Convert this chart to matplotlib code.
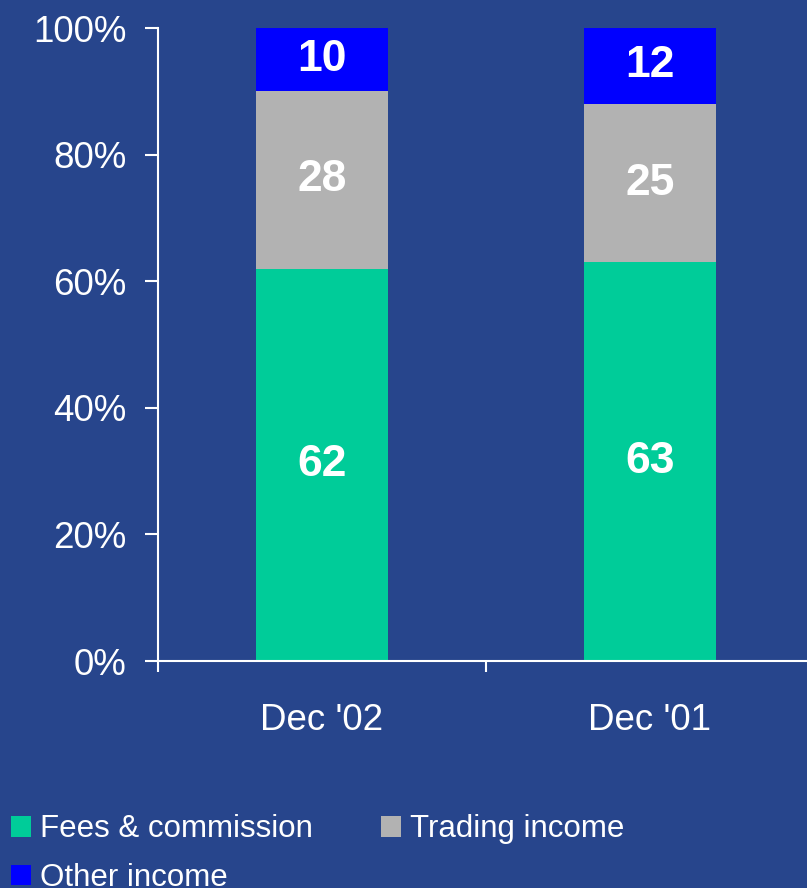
import matplotlib
matplotlib.use("Agg")
import matplotlib.pyplot as plt
from matplotlib.patches import Patch
import numpy as np

# data
periods = ["Dec '02", "Dec '01"]
fees = [62, 63]
trading = [28, 25]
other = [10, 12]
series_names = ["Fees & commission", "Trading income", "Other income"]
colors = ["#00CC99", "#B2B2B2", "#0000FF"]
bg = "#27458C"

plt.rcParams["font.family"] = ["Liberation Sans", "DejaVu Sans"]

fig = plt.figure(figsize=(8.07, 8.88), dpi=100, facecolor=bg)
ax = fig.add_axes([158 / 807, 227 / 888, 656 / 807, 633 / 888])
ax.set_facecolor(bg)

x = np.arange(len(periods))
width = 0.405
bottom = np.zeros(len(periods))
for vals, col in zip([fees, trading, other], colors):
    bars = ax.bar(x, vals, width, bottom=bottom, color=col, zorder=2)
    for rect, v, b in zip(bars, vals, bottom):
        ax.text(rect.get_x() + rect.get_width() / 2, b + v / 2, str(v),
                ha="center", va="center", color="white", fontsize=32,
                fontweight="bold", zorder=3)
    bottom += np.array(vals)

ax.set_xlim(-0.5, len(periods) - 0.5)
ax.set_ylim(0, 100)
ax.set_yticks(np.arange(0, 101, 20))
ax.set_yticklabels([f"{v}%" for v in range(0, 101, 20)])

# boundaries get the tick marks, centres get the labels
ax.set_xticks(np.arange(-0.5, len(periods) + 0.5, 1))
ax.set_xticklabels([])
ax.set_xticks(x, minor=True)
ax.set_xticklabels(periods, minor=True)
ax.tick_params(axis="x", which="major", direction="out", length=8, width=1.5, color="white")
ax.tick_params(axis="x", which="minor", length=0, pad=30, labelsize=26.5, labelcolor="white")
ax.tick_params(axis="y", direction="out", length=9.5, width=1.5, color="white",
               pad=13, labelsize=26.5, labelcolor="white")

for s in ["top", "right"]:
    ax.spines[s].set_visible(False)
for s in ["left", "bottom"]:
    ax.spines[s].set_color("white")
    ax.spines[s].set_linewidth(1.5)

# legend, reordered so columns fill as in the original
handles = [Patch(facecolor=c, edgecolor="none") for c in colors]
order = [0, 2, 1]
fig.legend([handles[i] for i in order], [series_names[i] for i in order],
           loc="upper left", bbox_to_anchor=(0.002, 1 - 805 / 888), ncol=2,
           frameon=False, fontsize=22.5, labelcolor="white",
           handlelength=0.64, handleheight=0.64, handletextpad=0.28,
           columnspacing=2.2, labelspacing=0.6, borderaxespad=0, borderpad=0.3)

fig.savefig("out.png", dpi=100, facecolor=bg)
